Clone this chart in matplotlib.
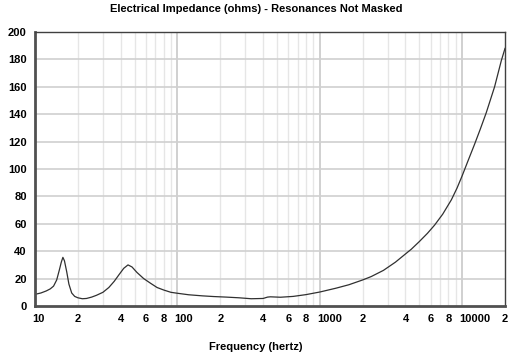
import matplotlib
matplotlib.use('Agg')
import matplotlib.pyplot as plt
from matplotlib.ticker import FixedLocator, NullFormatter
from matplotlib.transforms import ScaledTranslation

# impedance curve (Hz, ohms)
freq = [10, 11, 12, 12.8, 13.5, 14.2, 14.8, 15.3, 15.7, 16.1, 16.7, 17.3, 18.1, 19, 20,
        21.5, 23, 25, 27, 30, 33, 36, 39, 42, 45, 48, 52, 58, 65, 72, 80, 90,
        100, 120, 150, 180, 220, 270, 330, 400, 430, 450, 530, 650, 800,
        1000, 1300, 1600, 2000, 2300, 2800, 3400, 4000, 4400, 5000, 5700, 6400,
        7300, 8400, 9200, 10000, 11000, 12220, 13400, 14760, 16900,
        18830, 20000]
ohms = [8.5, 9.5, 11, 12.5, 14.5, 19, 26, 32, 35.5, 33, 25, 16, 9.5, 7, 6,
        5.3, 5.5, 6.5, 7.8, 10, 13.5, 18, 23, 27.5, 30, 28.5, 24.5, 20, 16.5, 13.5, 11.7, 10,
        9.3, 8.2, 7.4, 6.9, 6.5, 6, 5.3, 5.5, 6.5, 6.7, 6.4, 7, 8.3,
        10.2, 13, 15.5, 19, 21.5, 26, 32, 38, 41.5, 47, 53, 59,
        67, 77.5, 86, 95, 106, 118, 129, 141, 160,
        179, 188]

xticks = [10, 20, 40, 60, 80, 100, 200, 400, 600, 800, 1000, 2000, 4000, 6000, 8000, 10000, 20000]
xlabels = ['10', '2', '4', '6', '8', '100', '2', '4', '6', '8', '1000', '2', '4', '6', '8', '10000', '2']
yticks = list(range(0, 201, 20))

plt.rcParams['font.family'] = ['Liberation Sans', 'DejaVu Sans']
plt.rcParams['font.weight'] = 'bold'
plt.rcParams['font.size'] = 8

fig = plt.figure(figsize=(5.12, 3.56), dpi=100)
ax = fig.add_axes([35 / 512, 50 / 356, 470 / 512, 274 / 356])

# grid: minor lines light, decade lines darker
minors = [m * 10 ** d for d in range(1, 5) for m in range(2, 10) if m * 10 ** d < 20000]
for f in minors:
    ax.axvline(f, color='#e6e6e6', lw=1, zorder=0)
for f in [100, 1000, 10000]:
    ax.axvline(f, color='#c8c8c8', lw=1.2, zorder=0)
for v in yticks[1:-1]:
    ax.axhline(v, color='#d0d0d0', lw=1.2, zorder=0)

ax.plot(freq, ohms, color='#303030', lw=0.9)

ax.set_xscale('log')
ax.set_xlim(10, 20000)
ax.set_ylim(0, 200)
ax.xaxis.set_major_locator(FixedLocator([]))
ax.xaxis.set_minor_locator(FixedLocator([]))
ax.xaxis.set_minor_formatter(NullFormatter())
ax.set_yticks(yticks)
ax.tick_params(axis='y', length=0, pad=6)

# x labels start a few pixels left of their grid line, as in the original
shift = ScaledTranslation(-0.03, -0.08, fig.dpi_scale_trans)
for f, lab in zip(xticks, xlabels):
    ax.text(f, 0, lab, transform=ax.get_xaxis_transform() + shift,
            ha='left', va='top', fontweight='bold', fontsize=8)

for s in ['left', 'bottom']:
    ax.spines[s].set_color('#505050')
    ax.spines[s].set_linewidth(2)
for s in ['top', 'right']:
    ax.spines[s].set_color('#404040')
    ax.spines[s].set_linewidth(1)

fig.text(0.5, 1 - 9 / 356, 'Electrical Impedance (ohms) - Resonances Not Masked',
         ha='center', va='center', fontweight='bold', fontsize=8)
fig.text(0.5, 1 - 347 / 356, 'Frequency (hertz)', ha='center', va='center',
         fontweight='bold', fontsize=8)

fig.savefig('out.png', dpi=100, facecolor='white')
